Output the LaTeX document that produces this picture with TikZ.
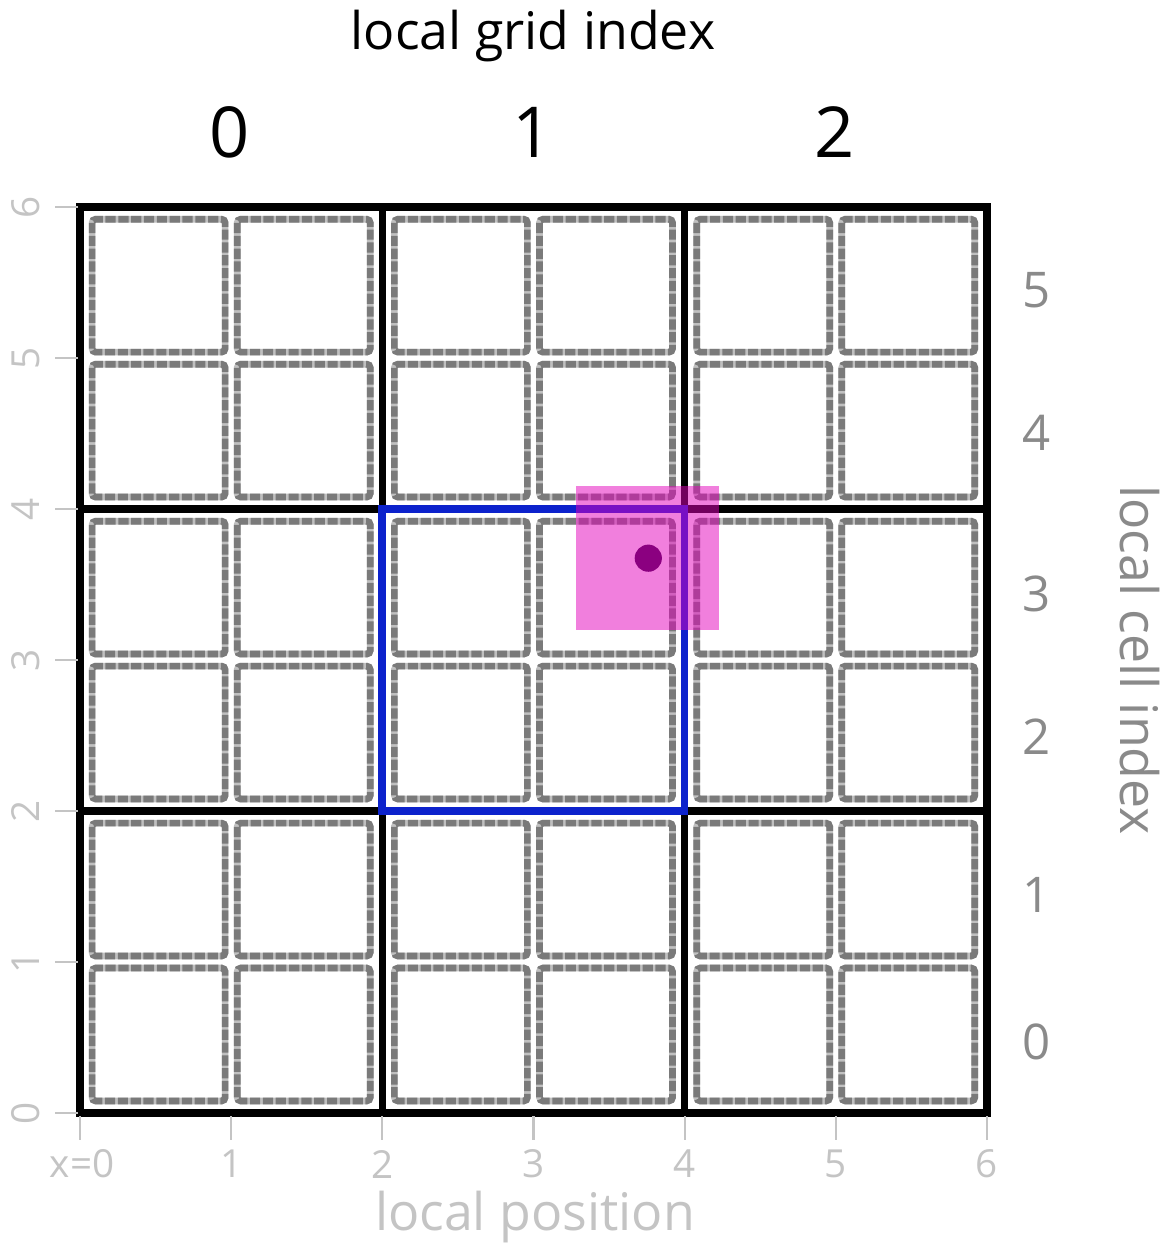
\documentclass[tikz,border=0pt]{standalone}
\usepackage{fontspec}
\setmainfont{Open Sans}
\definecolor{tickgray}{HTML}{C4C4C4}
\definecolor{labgray}{HTML}{8A8A8A}
\definecolor{dashdark}{HTML}{7A7A7A}
\definecolor{dashlight}{HTML}{C0C0C0}
\definecolor{gridblue}{HTML}{0C22CC}
\definecolor{pinkfill}{RGB}{229,0,189}
\definecolor{dotpurple}{HTML}{8B0080}
\begin{document}
\begin{tikzpicture}[x=0.02cm,y=-0.02cm,
  cellbase/.style={draw=dashlight,line width=3.8pt,rounded corners=2pt},
  celldash/.style={draw=dashdark,line width=3.8pt,dash pattern=on 5.8pt off 1.5pt,rounded corners=2pt},
  gridline/.style={line width=4.2pt,black,line cap=rect},
  bluebox/.style={line width=4.4pt,gridblue,line cap=rect},
  tickline/.style={line width=1.2pt,tickgray},
  ticklab/.style={text=tickgray,font=\fontsize{22}{24}\selectfont,inner sep=0pt},
  celllab/.style={text=labgray,font=\fontsize{28}{30}\selectfont,inner sep=0pt},
  gridlab/.style={text=black,font=\fontsize{40}{44}\selectfont,inner sep=0pt},
  axtitle/.style={font=\fontsize{29.5}{32}\selectfont,inner sep=0pt}]
\useasboundingbox (0,0) rectangle (1166,1243);
\fill[white] (0,0) rectangle (1166,1243);
% data scope
\begin{scope}[shift={(80,1113)}]
\begin{scope}[x=3.0234cm,y=3.02cm]
\foreach \g in {0,1,2}{
 \foreach \h in {0,1,2}{
  \foreach \i in {0,1}{
   \foreach \j in {0,1}{
    \pgfmathsetmacro{\xa}{2*\g+\i+0.08-0.04*\i}
    \pgfmathsetmacro{\xb}{2*\g+\i+0.96-0.04*\i}
    \pgfmathsetmacro{\ya}{2*\h+\j+0.08-0.04*\j}
    \pgfmathsetmacro{\yb}{2*\h+\j+0.96-0.04*\j}
    \draw[cellbase] (\xa,\ya) rectangle (\xb,\yb);
    \draw[celldash] (\xa,\ya) rectangle (\xb,\yb);
   }}}}
\draw[gridline] (0,0) rectangle (6,6);
\draw[gridline] (2,0) -- (2,6) (4,0) -- (4,6) (0,2) -- (6,2) (0,4) -- (6,4);
\draw[bluebox] (2,2) rectangle (4,4);
\fill[pinkfill,opacity=0.5] (3.28,3.2) rectangle (4.23,4.15);
\fill[dotpurple] (3.76,3.675) circle (0.09);
\end{scope}
\end{scope}
% ticks
\foreach \k in {0,...,6}{
  \draw[tickline] (55,{1113-151*\k}) -- (78,{1113-151*\k});
  \node[ticklab,rotate=90] (yl\k) at (26,{1113-151*\k}) {\k};
  \draw[tickline] ({80+151.17*\k},1116) -- ({80+151.17*\k},1140);
}
\foreach \k in {1,...,6}{
  \node[ticklab] (xl\k) at ({80+151.17*\k},1164) {\k};
}
\node[ticklab] (xl0) at (82,1164) {x=0};
\node[axtitle,text=tickgray] (xtitle) at (535,1217) {local position};
% top
\node[axtitle,text=black] (toptitle) at (533,36) {local grid index};
\node[gridlab] (g0) at (230,132) {0};
\node[gridlab] (g1) at (533,132) {1};
\node[gridlab] (g2) at (835,132) {2};
% right
\node[celllab] (c5) at (1037,290) {5};
\node[celllab] (c4) at (1037,433) {4};
\node[celllab] (c3) at (1037,594) {3};
\node[celllab] (c2) at (1037,737) {2};
\node[celllab] (c1) at (1037,895) {1};
\node[celllab] (c0) at (1037,1042) {0};
\node[axtitle,text=labgray,rotate=-90] (rtitle) at (1140,660) {local cell index};
\end{tikzpicture}
\end{document}
